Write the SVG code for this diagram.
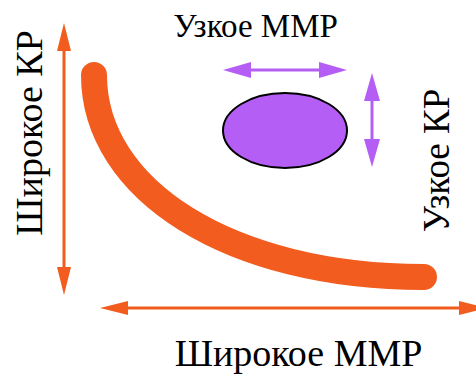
<svg xmlns="http://www.w3.org/2000/svg" width="476" height="374" viewBox="0 0 476 374">
<style>
  text { font-family: "Liberation Serif", "DejaVu Serif", serif; fill: #000; }
  .big { font-size: 38px; }
  .small { font-size: 33px; }
  .side { font-size: 37px; }
  .oline { stroke: #f25c1e; stroke-width: 3; fill: none; }
  .pline { stroke: #b45ef5; stroke-width: 3; fill: none; }
</style>
<defs>
  <marker id="ahO" markerUnits="userSpaceOnUse" markerWidth="28" markerHeight="14" refX="8" refY="7" orient="auto-start-reverse">
    <path d="M0,0 L28,7 L0,14 z" fill="#f25c1e"/>
  </marker>
  <marker id="ahP" markerUnits="userSpaceOnUse" markerWidth="28" markerHeight="16" refX="8" refY="8" orient="auto-start-reverse">
    <path d="M0,0 L28,8 L0,16 z" fill="#b45ef5"/>
  </marker>
</defs>
<rect width="476" height="374" fill="#fff"/>
<g id="connectors">
  <line class="oline" x1="64" y1="43" x2="64" y2="275" marker-start="url(#ahO)" marker-end="url(#ahO)"/>
  <line class="oline" x1="120" y1="308" x2="467" y2="308" marker-start="url(#ahO)" marker-end="url(#ahO)"/>
  <line class="pline" x1="243" y1="70" x2="327" y2="70" marker-start="url(#ahP)" marker-end="url(#ahP)"/>
  <line class="pline" x1="372" y1="93" x2="372" y2="147" marker-start="url(#ahP)" marker-end="url(#ahP)"/>
</g>
<g id="curve">
  <path d="M94,75 C94,190 230,277 424,277" fill="none" stroke="#f25c1e" stroke-width="26" stroke-linecap="round"/>
</g>
<g id="ellipse">
  <ellipse cx="285" cy="130.5" rx="62" ry="37.5" fill="#b45ef5" stroke="#000" stroke-width="2"/>
</g>
<g id="labels">
  <text class="big" transform="translate(42,133) rotate(-90)" text-anchor="middle">Широкое КР</text>
  <text class="side" transform="translate(449,160.5) rotate(-90)" text-anchor="middle">Узкое КР</text>
  <text class="small" x="255.5" y="37" text-anchor="middle">Узкое ММР</text>
  <text class="big" x="298.5" y="366" text-anchor="middle">Широкое ММР</text>
</g>
</svg>
